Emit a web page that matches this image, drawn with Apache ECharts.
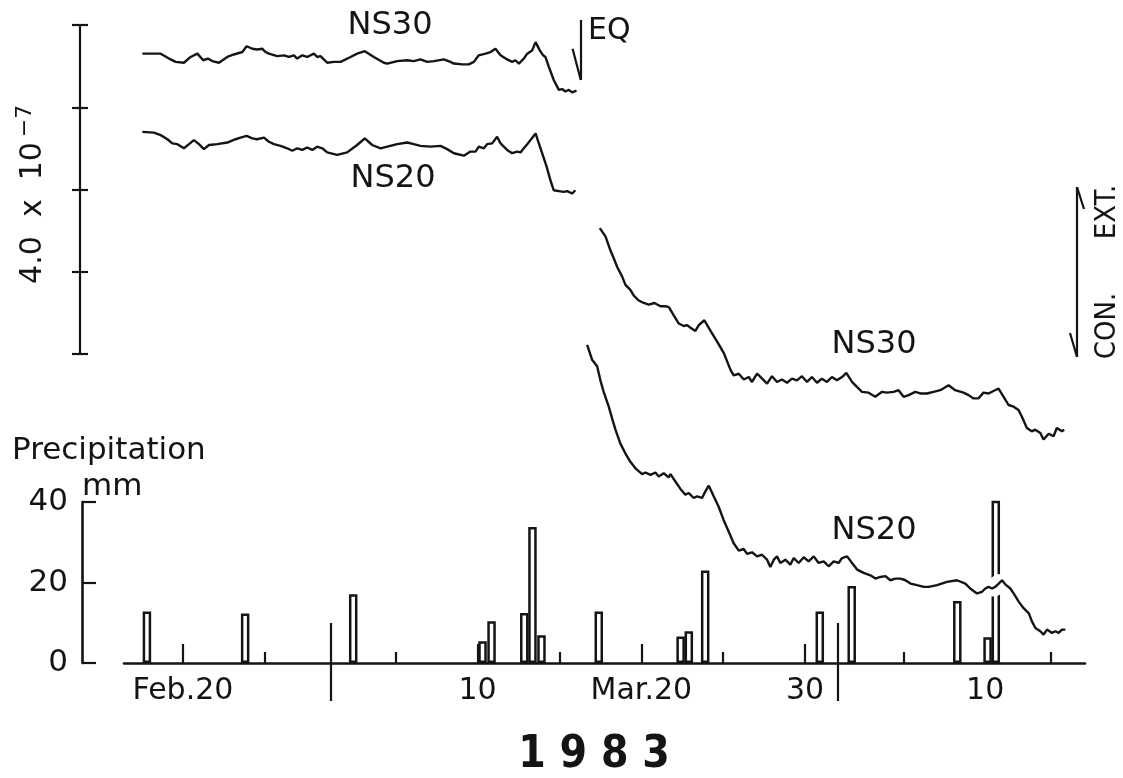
<!DOCTYPE html>
<html>
<head>
<meta charset="utf-8">
<script src="https://cdn.jsdelivr.net/npm/echarts@6/dist/echarts.min.js"></script>
<style>html,body{margin:0;background:#fff}#main{width:1123px;height:778px}</style>
</head>
<body>
<div id="main"></div>
<script>
var dom = document.getElementById("main");
var myChart = echarts.init(dom);
var FONT = "'DejaVu Sans', sans-serif";
var NARROW = "'DejaVu Sans Condensed', 'DejaVu Sans', sans-serif";
var INK = '#141414';

// time axis: days after Feb.20, 1983
var labelDays = [0, 18, 28, 38, 49];
var labelText = ['Feb.20', '10', 'Mar.20', '30', '10'];
var minorDays = [5, 13, 23, 33, 44, 53];
var monthDays = [9, 40];
var eqDay = 24.3;

// daily precipitation
var rainDays = [-2.2, 3.8, 10.4, 18.3, 18.85, 20.85, 21.35, 21.9, 25.4, 30.4, 30.9, 31.9, 38.9, 40.85, 47.3, 49.15, 49.65];
var rainMm   = [12.8, 12.3, 17.1, 5.4, 10.4, 12.4, 33.8, 6.9, 12.8, 6.6, 7.9, 23.0, 12.8, 19.1, 15.4, 6.4, 41.2];

// strain records, unit 1e-8 (scale bar = 4.0 x 1e-7)
var ns30Before = [[-2.48,36.5],[-1.36,36.5],[-0.75,35.8],[-0.45,35.5],[0.06,35.4],[0.47,36.1],[0.88,36.5],[1.24,35.7],[1.53,35.9],[1.79,35.6],[2.2,35.4],[2.71,36.1],[3.11,36.4],[3.63,36.7],[3.89,37.4],[4.24,37.1],[4.54,37.0],[4.84,37.1],[5.05,36.7],[5.25,36.5],[5.76,36.2],[6.17,36.3],[6.47,36.1],[6.78,36.3],[6.98,35.9],[7.29,36.3],[7.59,36.1],[8.0,36.5],[8.2,36.1],[8.4,36.2],[8.81,35.4],[9.22,35.5],[9.63,35.5],[10.24,36.1],[10.64,36.5],[11.11,36.8],[11.66,36.1],[12.27,35.4],[12.48,35.3],[13.09,35.6],[13.7,35.7],[14.1,35.6],[14.51,35.8],[14.92,35.5],[15.33,35.6],[15.94,35.8],[16.34,35.5],[16.55,35.3],[17.06,35.2],[17.46,35.2],[17.77,35.5],[18.07,36.3],[18.48,36.5],[18.79,36.7],[19.09,37.1],[19.4,36.3],[19.8,35.8],[20.11,35.5],[20.31,35.7],[20.52,35.3],[20.82,35.9],[21.03,36.5],[21.33,36.9],[21.54,37.9],[21.8,36.9],[22.0,36.3],[22.14,36.1],[22.35,34.9],[22.65,33.3],[22.96,32.1],[23.16,32.2],[23.36,31.9],[23.57,32.1],[23.77,31.8],[24.04,32.0]];
var ns20Before = [[-2.48,27.0],[-1.77,26.9],[-1.36,26.6],[-0.95,26.1],[-0.65,25.6],[-0.34,25.5],[0.06,25.0],[0.37,25.5],[0.67,26.0],[0.98,25.5],[1.28,24.9],[1.59,25.4],[2.1,25.5],[2.71,25.7],[3.22,26.1],[3.52,26.3],[3.89,26.5],[4.24,26.2],[4.54,26.1],[4.95,26.3],[5.25,25.8],[5.56,25.5],[5.96,25.3],[6.37,25.0],[6.68,24.7],[6.98,25.0],[7.29,24.8],[7.59,25.1],[7.9,24.8],[8.2,25.2],[8.51,25.0],[8.81,24.5],[9.42,24.2],[10.03,24.5],[10.64,25.4],[11.11,26.2],[11.56,25.4],[12.07,25.0],[12.48,25.2],[13.09,25.5],[13.7,25.7],[14.1,25.5],[14.51,25.3],[15.12,25.2],[15.73,25.3],[16.14,24.9],[16.55,24.4],[17.16,24.1],[17.56,24.6],[17.87,24.6],[18.07,25.2],[18.38,25.0],[18.58,25.5],[18.89,25.6],[19.19,26.4],[19.4,25.6],[19.8,24.8],[20.11,24.4],[20.41,24.6],[20.62,24.5],[20.82,25.0],[21.03,25.5],[21.23,26.0],[21.54,26.8],[21.74,25.6],[21.94,24.4],[22.21,22.8],[22.45,21.1],[22.65,19.9],[22.96,19.8],[23.26,19.7],[23.47,19.8],[23.77,19.5],[23.97,19.9]];
var ns30After = [[25.46,15.3],[25.81,14.3],[26.11,12.6],[26.32,11.6],[26.52,10.6],[26.83,9.4],[27.03,8.4],[27.33,7.8],[27.54,7.1],[27.84,6.5],[28.15,6.2],[28.45,6.0],[28.8,6.2],[29.17,5.8],[29.47,5.8],[29.68,5.7],[29.98,4.7],[30.29,3.7],[30.59,3.4],[30.8,3.5],[31.0,3.2],[31.3,2.8],[31.51,3.5],[31.85,4.1],[32.02,3.5],[32.32,2.5],[32.63,1.5],[33.04,0.1],[33.44,-1.9],[33.64,-2.6],[33.95,-2.4],[34.26,-3.1],[34.56,-2.8],[34.76,-3.4],[35.07,-2.4],[35.38,-3.0],[35.68,-3.6],[35.98,-2.7],[36.29,-3.4],[36.59,-3.1],[36.9,-3.5],[37.2,-3.0],[37.51,-3.2],[37.81,-2.7],[38.12,-3.4],[38.42,-2.8],[38.73,-3.5],[39.03,-3.0],[39.34,-3.4],[39.64,-2.8],[39.95,-3.2],[40.26,-2.8],[40.52,-2.3],[40.87,-3.4],[41.17,-4.0],[41.48,-4.6],[41.88,-4.7],[42.29,-5.2],[42.7,-4.6],[43.0,-4.7],[43.41,-4.6],[43.71,-4.4],[44.02,-5.2],[44.33,-5.0],[44.73,-4.6],[45.04,-4.8],[45.45,-4.8],[45.85,-4.6],[46.26,-4.4],[46.77,-3.8],[47.17,-4.4],[47.68,-4.7],[47.99,-5.0],[48.29,-5.4],[48.59,-5.4],[48.9,-4.7],[49.21,-4.8],[49.51,-4.5],[49.82,-4.2],[50.13,-5.2],[50.43,-6.2],[50.74,-6.4],[51.04,-6.8],[51.24,-7.6],[51.55,-9.0],[51.85,-9.4],[52.06,-9.2],[52.37,-9.6],[52.57,-10.4],[52.88,-9.7],[53.18,-10.0],[53.38,-9.0],[53.69,-9.4],[53.83,-9.2]];
var ns20After = [[24.69,1.1],[24.99,-0.7],[25.3,-1.5],[25.5,-3.2],[25.7,-4.6],[26.01,-6.4],[26.21,-7.8],[26.42,-9.2],[26.72,-10.9],[27.03,-12.1],[27.33,-13.1],[27.64,-13.9],[28.05,-14.6],[28.25,-14.4],[28.56,-14.7],[28.86,-14.4],[29.06,-14.9],[29.37,-14.5],[29.67,-15.0],[29.78,-14.6],[30.08,-15.5],[30.39,-16.4],[30.69,-17.1],[30.9,-16.9],[31.2,-17.5],[31.4,-17.3],[31.71,-17.5],[31.91,-16.7],[32.12,-16.0],[32.42,-17.3],[32.73,-18.6],[33.03,-20.2],[33.34,-21.6],[33.64,-23.0],[33.95,-23.9],[34.25,-23.7],[34.46,-24.3],[34.76,-24.1],[35.07,-24.6],[35.37,-24.4],[35.68,-25.0],[35.88,-25.9],[36.09,-25.0],[36.29,-24.6],[36.49,-25.4],[36.8,-25.0],[37.1,-25.6],[37.31,-24.8],[37.61,-25.4],[37.92,-24.7],[38.22,-25.2],[38.53,-24.6],[38.83,-25.4],[39.14,-25.2],[39.44,-25.8],[39.75,-25.2],[40.05,-25.4],[40.26,-24.8],[40.57,-24.6],[40.87,-25.4],[41.18,-26.2],[41.58,-26.6],[41.99,-26.9],[42.3,-27.3],[42.6,-27.1],[42.91,-27.0],[43.21,-27.5],[43.52,-27.3],[43.83,-27.3],[44.13,-27.5],[44.44,-27.9],[44.84,-28.1],[45.25,-28.3],[45.55,-28.3],[46.06,-28.1],[46.67,-27.7],[47.28,-27.5],[47.79,-27.9],[48.09,-28.5],[48.5,-29.1],[48.81,-28.9],[49.01,-28.5],[49.21,-28.3],[49.42,-28.5],[49.62,-28.3],[49.83,-27.9],[50.03,-27.5],[50.23,-28.0],[50.54,-28.5],[50.74,-29.1],[51.05,-30.1],[51.35,-30.9],[51.66,-31.5],[51.86,-32.5],[52.07,-33.3],[52.37,-33.7],[52.57,-34.1],[52.78,-33.5],[53.08,-33.9],[53.29,-33.7],[53.49,-33.9],[53.69,-33.5],[53.9,-33.5]];

var rainData = rainDays.map(function (d, i) { return [d, rainMm[i]]; });
var dayMin = -3.6, dayMax = 55.1;

function tickAxis(values, len, inside, showLine) {
    return {
        gridIndex: 0, type: 'value', min: dayMin, max: dayMax, position: 'bottom',
        axisLine: { show: showLine, onZero: false, lineStyle: { color: INK, width: 2.6 } },
        axisTick: { show: true, inside: inside, length: len, customValues: values, lineStyle: { color: INK, width: 2.2 } },
        axisLabel: { show: false },
        splitLine: { show: false }
    };
}

var mainX = tickAxis(labelDays, 19, true, true);
mainX.axisLabel = {
    show: true, customValues: labelDays, margin: 13,
    color: INK, fontSize: 30, fontFamily: FONT,
    formatter: function (v) {
        var i = labelDays.indexOf(v);
        return i < 0 ? '' : labelText[i];
    }
};

function lineSeries(data) {
    return {
        type: 'line', xAxisIndex: 4, yAxisIndex: 1, data: data,
        showSymbol: false, symbol: 'none', z: 5, silent: true,
        lineStyle: { color: INK, width: 2.4 }
    };
}

var ns30b = lineSeries(ns30Before);
ns30b.markLine = {
    symbol: 'none', silent: true, label: { show: false },
    lineStyle: { color: INK, width: 2.2, type: 'solid' },
    data: [
        [{ coord: [eqDay, 40.6] }, { coord: [eqDay, 33.3] }],
        [{ coord: [eqDay - 0.5, 37.1] }, { coord: [eqDay, 33.3] }]
    ]
};

// white halo so the tall April bar is broken where the NS20 trace crosses it
var halo = lineSeries(ns20After);
halo.z = 4;
halo.lineStyle = { color: '#ffffff', width: 18 };

option = {
    animation: false,
    backgroundColor: '#fff',
    grid: [
        { left: 124, right: 38, top: 502, height: 161 },
        { left: 124, right: 38, top: 15, height: 650 },
        { left: 80, width: 1, top: 25, height: 329 }
    ],
    xAxis: [
        mainX,
        tickAxis(minorDays, 11, true, false),
        tickAxis(monthDays, 40, true, false),
        tickAxis(monthDays, 38, false, false),
        { gridIndex: 1, type: 'value', min: dayMin, max: dayMax, show: false },
        { gridIndex: 2, type: 'value', min: 0, max: 1, show: false }
    ],
    yAxis: [
        {
            gridIndex: 0, type: 'value', min: 0, max: 40, interval: 20, offset: 42,
            axisLine: { show: true, onZero: false, lineStyle: { color: INK, width: 2.6 } },
            axisTick: { show: true, inside: true, length: 14, lineStyle: { color: INK, width: 2.2 } },
            axisLabel: { margin: 14, color: INK, fontSize: 31, fontFamily: FONT },
            splitLine: { show: false }
        },
        { gridIndex: 1, type: 'value', min: -37.8, max: 41.2, show: false },
        {
            gridIndex: 2, type: 'value', min: 0, max: 40, interval: 10,
            axisLine: { show: true, onZero: false, lineStyle: { color: INK, width: 2.2 } },
            axisTick: { show: true, inside: true, length: 8, lineStyle: { color: INK, width: 2.2 } },
            axisLabel: { show: false }, splitLine: { show: false }
        },
        {
            gridIndex: 2, type: 'value', min: 0, max: 40, interval: 10, position: 'left',
            axisLine: { show: false, onZero: false },
            axisTick: { show: true, inside: false, length: 8, lineStyle: { color: INK, width: 2.2 } },
            axisLabel: { show: false }, splitLine: { show: false }
        }
    ],
    series: [
        {
            type: 'bar', xAxisIndex: 0, yAxisIndex: 0, data: rainData,
            barWidth: 8.5, z: 2, silent: true,
            itemStyle: { color: '#fff', borderColor: INK, borderWidth: 2.5 }
        },
        halo,
        ns30b,
        lineSeries(ns20Before),
        lineSeries(ns30After),
        lineSeries(ns20After)
    ],
    graphic: [
        { type: 'text', x: 390, y: 26, style: { text: 'NS30', font: '32px ' + FONT, fill: INK, textAlign: 'center', textVerticalAlign: 'middle' } },
        { type: 'text', x: 393, y: 179, style: { text: 'NS20', font: '32px ' + FONT, fill: INK, textAlign: 'center', textVerticalAlign: 'middle' } },
        { type: 'text', x: 874, y: 345, style: { text: 'NS30', font: '32px ' + FONT, fill: INK, textAlign: 'center', textVerticalAlign: 'middle' } },
        { type: 'text', x: 874, y: 531, style: { text: 'NS20', font: '32px ' + FONT, fill: INK, textAlign: 'center', textVerticalAlign: 'middle' } },
        { type: 'text', x: 588, y: 31, style: { text: 'EQ', font: '30px ' + FONT, fill: INK, textAlign: 'left', textVerticalAlign: 'middle' } },
        { type: 'text', x: 12, y: 451, style: { text: 'Precipitation', font: '31px ' + FONT, fill: INK, textAlign: 'left', textVerticalAlign: 'middle' } },
        { type: 'text', x: 82, y: 487, style: { text: 'mm', font: '31px ' + FONT, fill: INK, textAlign: 'left', textVerticalAlign: 'middle' } },
        { type: 'text', x: 594, y: 756, style: { text: '1 9 8 3', font: 'bold 44px ' + NARROW, fill: INK, textAlign: 'center', textVerticalAlign: 'middle' } },
        { type: 'text', x: 33, y: 213, rotation: Math.PI / 2, style: { text: '4.0  x  10', font: '30px ' + FONT, fill: INK, textAlign: 'center', textVerticalAlign: 'middle' } },
        { type: 'text', x: 25, y: 121, rotation: Math.PI / 2, style: { text: '\u22127', font: '22px ' + FONT, fill: INK, textAlign: 'center', textVerticalAlign: 'middle' } },
        { type: 'text', x: 1107, y: 212, rotation: Math.PI / 2, style: { text: 'EXT.', font: '29px ' + NARROW, fill: INK, textAlign: 'center', textVerticalAlign: 'middle' } },
        { type: 'text', x: 1107, y: 326, rotation: Math.PI / 2, style: { text: 'CON.', font: '29px ' + NARROW, fill: INK, textAlign: 'center', textVerticalAlign: 'middle' } },
        { type: 'line', shape: { x1: 1077, y1: 187, x2: 1077, y2: 357 }, style: { stroke: INK, lineWidth: 2.2 } },
        { type: 'line', shape: { x1: 1077, y1: 187, x2: 1084, y2: 209 }, style: { stroke: INK, lineWidth: 2.2 } },
        { type: 'line', shape: { x1: 1077, y1: 357, x2: 1070, y2: 333 }, style: { stroke: INK, lineWidth: 2.2 } }
    ]
};
if (option && typeof option === "object") {
    myChart.setOption(option, true);
}
window.addEventListener("resize", function () {
    myChart.resize();
});
</script>
</body>
</html>
